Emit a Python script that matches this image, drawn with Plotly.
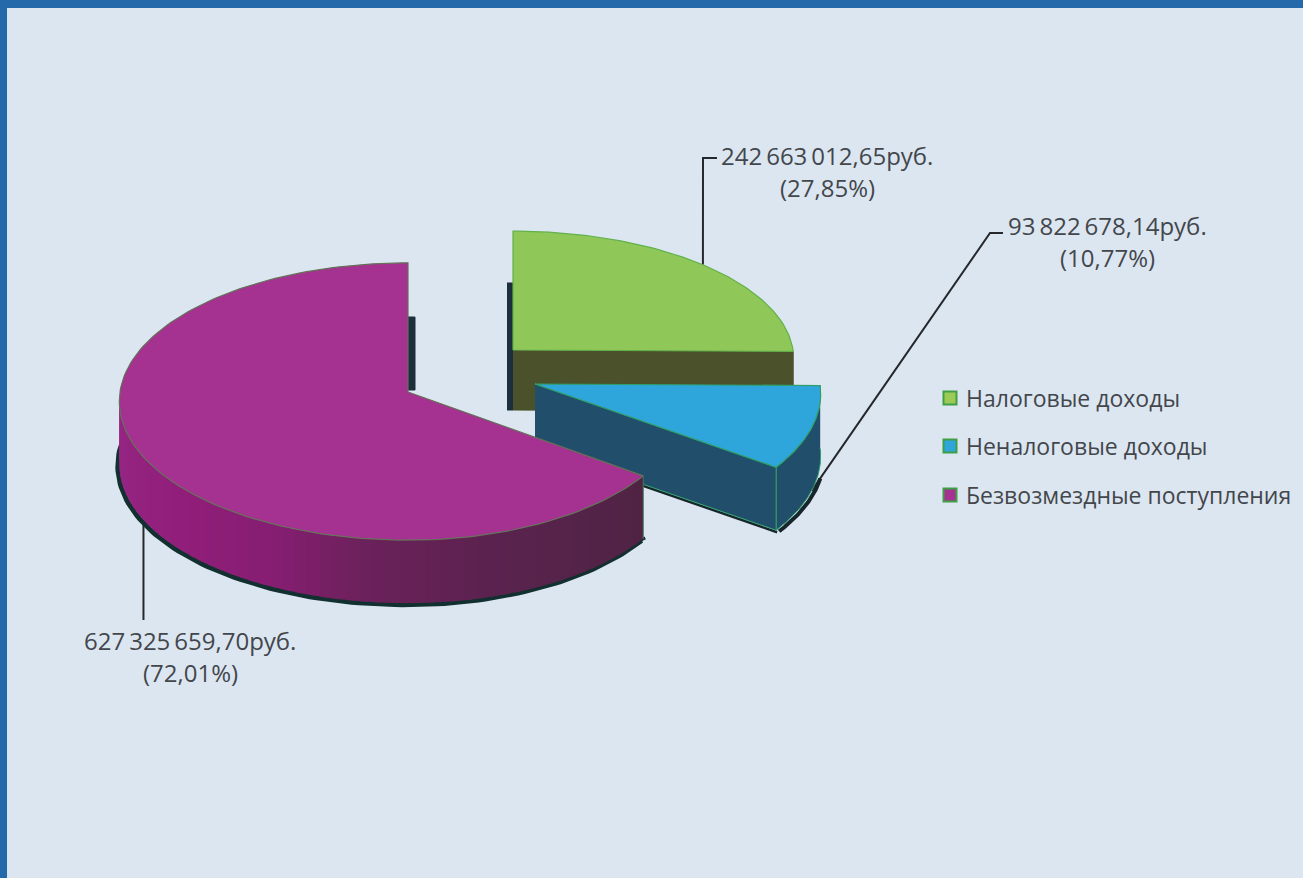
import math
import plotly.graph_objects as go

# ---- data ----
categories = ["Налоговые доходы", "Неналоговые доходы", "Безвозмездные поступления"]
values = [242663012.65, 93822678.14, 627325659.70]
value_labels = ["242\u2009663\u2009012,65руб.", "93\u2009822\u2009678,14руб.", "627\u2009325\u2009659,70руб."]
percent_labels = ["(27,85%)", "(10,77%)", "(72,01%)"]

# ---- styling / layout ----
W, H = 1303, 878
FONT = "'Open Sans', sans-serif"
TEXT = "#43474c"
top_colors = ["#8fc858", "#2ea6dc", "#a53190"]
edge_colors = ["#62b04a", "#2f9f6a", "#66705a"]
wall_colors = ["#4b522b", "#204e6b", "#50233f"]
legend_colors = ["#9ccb55", "#2ea6dc", "#a53190"]
centers = [(513, 350), (535, 384), (408, 392)]
radii_x = [280, 285, 288]
radii_x_right = [280, 285, 278]
radii_y = [127, 137, 138]
depths = [60, 63, 63]
K = 0.0686
rim_stops = [(125, (80, 35, 68)), (160, (90, 35, 78)), (185, (106, 34, 90)),
             (205, (135, 30, 115)), (225, (145, 30, 122)), (260, (150, 38, 132)),
             (275, (158, 42, 142))]
label_pos = [(827, 155, 187), (1107, 225, 257), (190, 640, 672)]
elbows = [[(703, 158), (717, 158)], [(990, 233), (1003, 233)], [(None, 620)]]
legend_x = 950
legend_text_x = 964
legend_y = [398, 446, 495]

total = sum(values)
bounds = [0.0]
for v in values:
    bounds.append(bounds[-1] + v / total * 360.0)


def proj(i, deg, drop=0.0):
    t = math.radians(deg)
    u, v = math.sin(t), math.cos(t)
    d = 1 + K * v
    cx, cy = centers[i]
    rx = radii_x_right[i] if u > 0 else radii_x[i]
    return cx + rx * u / d, cy - radii_y[i] * v / d + drop


def arc(i, a, b, drop=0.0, n=80):
    pts = [proj(i, a + (b - a) * j / n, drop) for j in range(n + 1)]
    return [p[0] for p in pts], [p[1] for p in pts]


def rim_color(deg):
    if deg <= rim_stops[0][0]:
        return "rgb%s" % (rim_stops[0][1],)
    for (a, ca), (b, cb) in zip(rim_stops, rim_stops[1:]):
        if deg <= b:
            f = (deg - a) / (b - a)
            return "rgb(%d,%d,%d)" % tuple(ca[k] + (cb[k] - ca[k]) * f for k in range(3))
    return "rgb%s" % (rim_stops[-1][1],)


fig = go.Figure()


def poly(xs, ys, fill, line=None, lw=1.0):
    fig.add_trace(go.Scatter(x=xs, y=ys, mode="lines", fill="toself", fillcolor=fill,
                             line=dict(color=line or fill, width=lw), showlegend=False,
                             hoverinfo="skip"))


def stroke(xs, ys, color, lw):
    fig.add_trace(go.Scatter(x=xs, y=ys, mode="lines", line=dict(color=color, width=lw),
                             showlegend=False, hoverinfo="skip"))


# leader lines, anchored on each slice's mid angle
for i in range(3):
    mid = (bounds[i] + bounds[i + 1]) / 2
    ax, ay = proj(i, mid, 0 if i == 0 else depths[i])
    xs, ys = [ax], [ay]
    for ex, ey in elbows[i]:
        xs.append(ax if ex is None else ex)
        ys.append(ey)
    stroke(xs, ys, "#26282b", 2)

SHADOW = "#1d2f3c"
# green slice
i = 0
cx, cy = centers[i]
poly([cx - 6, cx, cx, cx - 6], [cy - 67, cy - 67, cy + depths[i], cy + depths[i]], SHADOW)
ex, ey = proj(i, bounds[1])
poly([cx, ex, ex, cx], [cy, ey, ey + depths[i], cy + depths[i]], wall_colors[i])
xs, ys = arc(i, bounds[0], bounds[1])
poly([cx] + xs + [cx], [cy] + ys + [cy], top_colors[i], edge_colors[i], 1.2)

# blue slice
i = 1
cx, cy = centers[i]
xs, ys = arc(i, bounds[1] + 12, bounds[2], depths[i] + 1)
stroke([x + 3 for x in xs], ys, "#17262c", 4)
ex, ey = proj(i, bounds[2])
stroke([cx + 2, ex + 1], [cy + depths[i] + 2, ey + depths[i] + 2], "#17262c", 2.5)
xs, ys = arc(i, bounds[1], bounds[2])
xb, yb = arc(i, bounds[2], bounds[1], depths[i])
poly(xs + xb, ys + yb, wall_colors[i], edge_colors[i], 1)
poly([cx, ex, ex, cx], [cy, ey, ey + depths[i], cy + depths[i]], wall_colors[i], edge_colors[i], 1)
xs, ys = arc(i, bounds[1], bounds[2])
poly([cx] + xs + [cx], [cy] + ys + [cy], top_colors[i], edge_colors[i], 1.2)

# purple slice
i = 2
cx, cy = centers[i]
poly([cx, cx + 7, cx + 7, cx], [cy - 75, cy - 75, cy - 2, cy - 2], SHADOW)
xs, ys = arc(i, bounds[2], 287, depths[i] + 1.5, 120)
stroke([x - 1.5 for x in xs], ys, "#12302f", 5)
ex, ey = proj(i, bounds[2])
stroke([ex - 8, ex + 2], [ey + depths[i] + 4, ey + depths[i] - 1], "#12302f", 3)
deg = 280.0
while deg > bounds[2]:
    nxt = max(deg - 2.5, bounds[2])
    # each band overlaps the next one so no seam shows
    xt, yt = arc(i, nxt, min(deg + 1.5, 280), 0, 4)
    xb, yb = arc(i, min(deg + 1.5, 280), nxt, depths[i], 4)
    c = rim_color((deg + nxt) / 2)
    fig.add_trace(go.Scatter(x=xt + xb, y=yt + yb, mode="lines", fill="toself", fillcolor=c,
                             line=dict(width=0), showlegend=False, hoverinfo="skip"))
    deg = nxt
stroke([ex, ex], [ey, ey + depths[i]], "#3f7a50", 1)
xs, ys = arc(i, bounds[2], bounds[3], 0, 160)
poly([cx] + xs + [cx], [cy] + ys + [cy], top_colors[i], edge_colors[i], 1.2)

annotations = []
# legend entries
for name, c, y in zip(categories, legend_colors, legend_y):
    fig.add_trace(go.Scatter(x=[legend_x], y=[y], mode="markers", name=name,
                             showlegend=False, hoverinfo="skip",
                             marker=dict(symbol="square", size=13, color=c,
                                         line=dict(color="#3f9f45", width=2))))
    annotations.append(dict(x=legend_text_x, y=y, xref="x", yref="y", text=name, showarrow=False,
                            xanchor="left", font=dict(family=FONT, size=23, color=TEXT)))

for (x, y1, y2), a, b in zip(label_pos, value_labels, percent_labels):
    for y, t in ((y1, a), (y2, b)):
        annotations.append(dict(x=x, y=y, xref="x", yref="y", text=t, showarrow=False,
                                font=dict(family=FONT, size=24, color=TEXT)))

fig.update_layout(
    width=W, height=H, autosize=False,
    margin=dict(l=7, r=0, t=8, b=0, pad=0),
    paper_bgcolor="#246aaa", plot_bgcolor="#dce6f1",
    xaxis=dict(range=[7, W], visible=False, fixedrange=True),
    yaxis=dict(range=[H, 8], visible=False, fixedrange=True),
    annotations=annotations,
    showlegend=False,
)

fig.write_html("out.html", config={"displayModeBar": False},
               post_script="document.body.style.margin='0';")
